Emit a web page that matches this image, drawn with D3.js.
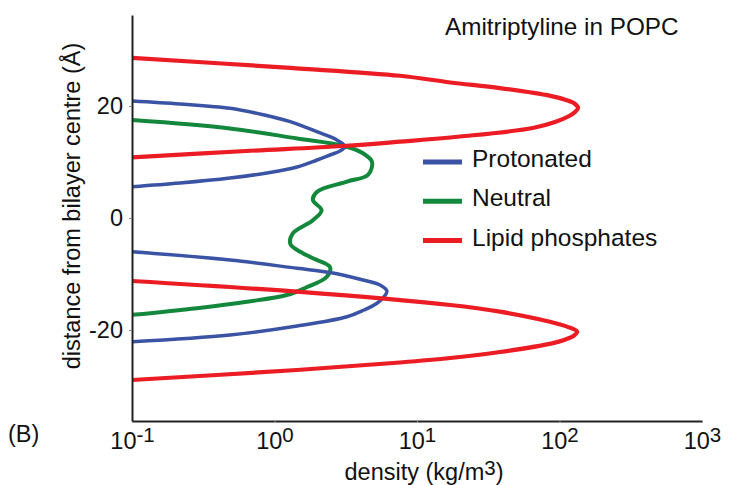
<!DOCTYPE html>
<html>
<head>
<meta charset="utf-8">
<script src="https://cdn.jsdelivr.net/npm/d3@7"></script>
<style>
  body { margin: 0; background: #fff; }
  text { font-family: "Liberation Sans", Arial, sans-serif; fill: #111; }
</style>
</head>
<body>
<script>
// [distance z (Å), density (kg/m3)]
var lipidUpper = [
  [28.6, 0.1], [26.8, 1.29], [25.4, 7.6], [24.2, 17.1], [23.2, 38.2], [21.8, 86.5],
  [21.07, 111], [20.36, 128.5], [19.64, 135], [18.93, 128.5], [18.21, 117], [17.14, 93],
  [16.07, 65], [14.55, 20], [13.63, 7.6], [12.86, 3.03], [11.96, 0.63], [10.84, 0.1]
];
var lipidLower = [
  [-11.25, 0.1], [-13.16, 1.44], [-15.54, 17.1], [-16.73, 38.2], [-18.52, 85.7],
  [-19.4, 113], [-20.3, 133], [-21.02, 126], [-21.73, 109], [-22.38, 88.5],
  [-23.93, 38.2], [-25.0, 17.1], [-25.8, 7.6], [-27.14, 1.44], [-28.93, 0.1]
];
var protUpper = [
  [20.89, 0.1], [20.36, 0.217], [19.59, 0.487], [18.57, 0.79], [17.2, 1.29], [15.41, 1.98],
  [14.52, 2.45], [13.93, 2.74], [12.77, 3.13], [11.96, 2.88], [11.25, 2.45], [10.36, 1.99],
  [9.11, 1.44], [8.13, 0.929], [7.14, 0.487], [6.25, 0.217], [5.59, 0.1]
];
var protLower = [
  [-6.02, 0.1], [-7.5, 0.487], [-8.98, 1.44], [-9.73, 2.45], [-11.07, 4.18], [-11.96, 5.5],
  [-13.04, 6.15], [-14.11, 5.86], [-15.23, 5.24], [-16.43, 4.25], [-17.63, 3.23],
  [-19.29, 1.44], [-20.89, 0.487], [-22.09, 0.1]
];
var neutral = [
  [17.5, 0.1], [16.0, 0.487], [14.2, 1.44], [12.9, 3.03], [11.55, 4.18], [10.05, 4.83],
  [7.7, 4.53], [6.5, 3.23], [4.7, 1.99], [3.2, 1.86], [1.4, 2.14], [-0.4, 1.86],
  [-2.7, 1.35], [-4.6, 1.29], [-5.7, 1.44], [-7.2, 1.86], [-8.75, 2.45], [-10.5, 2.33],
  [-12.5, 1.64], [-13.75, 1.22], [-14.95, 0.641], [-16.1, 0.286], [-17.3, 0.1]
];
var xTicks = [-1, 0, 1, 2, 3];   // powers of ten
var yTicks = [-20, 0, 20];
var legendNames = ["Protonated", "Neutral", "Lipid phosphates"];
var colors = { "Protonated": "#3a53a4", "Neutral": "#13883c", "Lipid phosphates": "#ec1c24" };

var W = 729, H = 485;
var plot = { left: 132, right: 702, top: 15, bottom: 421 };

var x = d3.scaleLog()
    .domain([0.1, 1000])
    .range([plot.left, plot.right]);

var y = d3.scaleLinear()
    .domain([-36.25, 36.25])
    .range([plot.bottom, plot.top]);

var svg = d3.select("body").append("svg")
    .attr("width", W)
    .attr("height", H);

svg.append("clipPath").attr("id", "clip")
  .append("rect")
    .attr("x", plot.left).attr("y", 0)
    .attr("width", W - plot.left).attr("height", plot.bottom);

var line = d3.line()
    .x(d => x(d[1]))
    .y(d => y(d[0]))
    .curve(d3.curveCatmullRom.alpha(0.5));

var series = [
  { name: "Neutral", data: neutral, w: 4 },
  { name: "Protonated", data: protUpper, w: 3.5 },
  { name: "Protonated", data: protLower, w: 3.5 },
  { name: "Lipid phosphates", data: lipidUpper, w: 4.2 },
  { name: "Lipid phosphates", data: lipidLower, w: 4.2 }
];

svg.append("g").attr("clip-path", "url(#clip)")
  .selectAll("path")
  .data(series)
  .enter().append("path")
    .attr("d", d => line(d.data))
    .attr("fill", "none")
    .attr("stroke", d => colors[d.name])
    .attr("stroke-width", d => d.w)
    .attr("stroke-linejoin", "round");

// x axis
var xAxis = d3.axisBottom(x)
    .tickValues(xTicks.map(p => Math.pow(10, p)))
    .tickSize(2)
    .tickSizeOuter(0)
    .tickFormat("");

var gx = svg.append("g")
    .attr("transform", "translate(0," + plot.bottom + ")")
    .call(xAxis);
gx.select(".domain").attr("stroke", "#222").attr("stroke-width", 2);
gx.selectAll(".tick line").attr("stroke", "#999");

var xl = gx.selectAll(".tick").append("text")
    .attr("y", 28)
    .attr("text-anchor", "middle")
    .style("font-size", "23.5px");
xl.append("tspan").text("10");
xl.append("tspan")
    .attr("dy", -7)
    .style("font-size", "20.5px")
    .text(d => String(Math.round(Math.log10(d))));

// y axis
var yAxis = d3.axisLeft(y)
    .tickValues(yTicks)
    .tickSize(3)
    .tickPadding(6)
    .tickSizeOuter(0)
    .tickFormat(d => String(d));

var gy = svg.append("g")
    .attr("transform", "translate(" + plot.left + ",0)")
    .call(yAxis);
gy.select(".domain").attr("stroke", "#222").attr("stroke-width", 2);
gy.selectAll(".tick line").attr("stroke", "#888");
gy.selectAll(".tick text")
    .style("font-size", "23.5px")
    .style("font-family", "'Liberation Sans', Arial, sans-serif")
    .attr("fill", "#111");

// axis titles
svg.append("text")
    .attr("transform", "translate(80,206) rotate(-90)")
    .attr("text-anchor", "middle")
    .style("font-size", "23.5px")
    .text("distance from bilayer centre (Å)");

var xt = svg.append("text")
    .attr("x", 424)
    .attr("y", 480)
    .attr("text-anchor", "middle")
    .style("font-size", "23.5px");
xt.append("tspan").text("density (kg/m");
xt.append("tspan").attr("dy", -5).style("font-size", "20.5px").text("3");
xt.append("tspan").attr("dy", 5).text(")");

svg.append("text")
    .attr("x", 8)
    .attr("y", 442)
    .style("font-size", "23.5px")
    .text("(B)");

svg.append("text")
    .attr("x", 445)
    .attr("y", 35)
    .style("font-size", "24.3px")
    .text("Amitriptyline in POPC");

// legend
var legend = svg.selectAll(".legend")
    .data(legendNames)
  .enter().append("g")
    .attr("class", "legend")
    .attr("transform", (d, i) => "translate(423," + (162 + i * 39.3) + ")");

legend.append("line")
    .attr("x1", 0).attr("x2", 39)
    .attr("stroke", d => colors[d])
    .attr("stroke-width", 5);

legend.append("text")
    .attr("x", 49)
    .attr("y", 5)
    .style("font-size", "24.5px")
    .text(d => d);
</script>
</body>
</html>
